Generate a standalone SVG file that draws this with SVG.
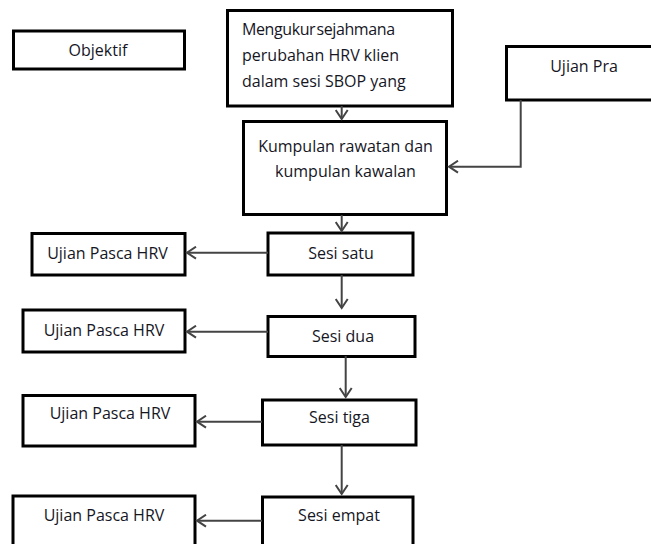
<svg xmlns="http://www.w3.org/2000/svg" width="651" height="544" viewBox="0 0 651 544">
<style>
.box{fill:#fff;stroke:#000;stroke-width:3}
.t{font-family:"Open Sans","Liberation Sans",sans-serif;font-size:16px;fill:#16161f}
.c{text-anchor:middle}
.tight{word-spacing:-2.5px;letter-spacing:-0.4px}
.ln{fill:none;stroke:#444;stroke-width:2}
</style>
<defs>
<marker id="ah" markerUnits="userSpaceOnUse" markerWidth="14" markerHeight="14" viewBox="-12 -7 14 14" refX="0" refY="0" orient="auto">
<path d="M-9,-6 L0,0 L-9,6" fill="none" stroke="#444" stroke-width="2"/>
</marker>
</defs>
<rect width="651" height="544" fill="#fff"/>
<g id="objektif"><rect class="box" x="13.5" y="31" width="171" height="38"/><text class="t c" x="98" y="56">Objektif</text></g>
<g id="mengukur"><rect class="box" x="227.5" y="10.5" width="225" height="95.5"/>
<text class="t tight" x="242" y="35">Mengukur sejahmana</text>
<text class="t" x="242" y="61">perubahan HRV klien</text>
<text class="t" x="242" y="87">dalam sesi SBOP yang</text></g>
<g id="ujianpra"><rect class="box" x="506.5" y="46.5" width="160" height="53.5"/><text class="t c" x="584" y="72">Ujian Pra</text></g>
<g id="kumpulan"><rect class="box" x="243.5" y="121.5" width="203" height="93"/>
<text class="t c" x="345.5" y="152">Kumpulan rawatan dan</text>
<text class="t c" x="345.5" y="177">kumpulan kawalan</text></g>
<g id="sesi1"><rect class="box" x="268" y="233" width="145" height="42"/><text class="t c" x="341" y="259">Sesi satu</text></g>
<g id="ujian1"><rect class="box" x="32" y="233.5" width="153" height="41.5"/><text class="t c" x="107.5" y="259">Ujian Pasca HRV</text></g>
<g id="sesi2"><rect class="box" x="268" y="316.5" width="147" height="40"/><text class="t c" x="343" y="342">Sesi dua</text></g>
<g id="ujian2"><rect class="box" x="23" y="310" width="162" height="42"/><text class="t c" x="104" y="336">Ujian Pasca HRV</text></g>
<g id="sesi3"><rect class="box" x="262.5" y="400" width="153.5" height="45"/><text class="t c" x="339.5" y="423">Sesi tiga</text></g>
<g id="ujian3"><rect class="box" x="23" y="395.5" width="172" height="50.5"/><text class="t c" x="110" y="419">Ujian Pasca HRV</text></g>
<g id="sesi4"><rect class="box" x="262.5" y="497" width="150.5" height="60"/><text class="t c" x="339" y="521">Sesi empat</text></g>
<g id="ujian4"><rect class="box" x="13" y="496" width="182" height="60"/><text class="t c" x="104" y="521">Ujian Pasca HRV</text></g>
<g id="connectors">
<path class="ln" d="M341.7,106 V119" marker-end="url(#ah)"/>
<path class="ln" d="M341.7,215 V231" marker-end="url(#ah)"/>
<path class="ln" d="M520.7,100 V166.7 H449" marker-end="url(#ah)"/>
<path class="ln" d="M268,252.7 H187" marker-end="url(#ah)"/>
<path class="ln" d="M341.7,275 V308" marker-end="url(#ah)"/>
<path class="ln" d="M268,331.7 H187" marker-end="url(#ah)"/>
<path class="ln" d="M345.7,356 V397" marker-end="url(#ah)"/>
<path class="ln" d="M262,421.7 H197" marker-end="url(#ah)"/>
<path class="ln" d="M341.7,445 V494" marker-end="url(#ah)"/>
<path class="ln" d="M262,520.7 H197" marker-end="url(#ah)"/>
</g>
</svg>
